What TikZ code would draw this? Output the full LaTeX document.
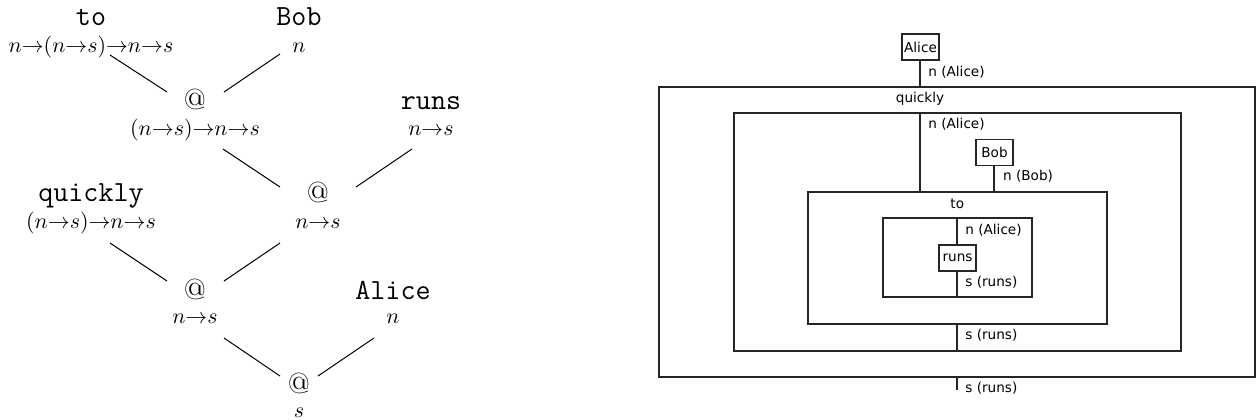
\documentclass[tikz,border=0pt]{standalone}
\usepackage{fontspec}
\newfontfamily\dvsans{DejaVu Sans}
\usetikzlibrary{calc,fit}
\tikzset{
  nm/.style={anchor=base,font=\fontsize{14.6}{17}\selectfont\ttfamily,inner sep=0pt},
  ap/.style={anchor=base,font=\fontsize{14.5}{17}\selectfont\rmfamily,inner sep=0pt},
  ty/.style={anchor=base,font=\fontsize{11.3}{13}\selectfont,inner sep=0pt},
  tedge/.style={line width=0.5pt},
  wire/.style={line width=0.9pt,draw=black!85},
  frame/.style={draw=black!85,line width=0.9pt,inner sep=0pt},
  gate/.style={draw=black!85,line width=0.9pt,minimum width=18.5pt,minimum height=13pt,inner sep=1pt,font=\dvsans\fontsize{6.8}{8}\selectfont},
  lbl/.style={anchor=west,inner sep=0pt,font=\dvsans\fontsize{6.8}{8}\selectfont},
  ttl/.style={inner sep=0pt,font=\dvsans\fontsize{6.8}{8}\selectfont},
}
\begin{document}
\begin{tikzpicture}[x=0.5pt,y=-0.5pt]
\useasboundingbox (0,0) rectangle (1257,419);
% ---------- left: derivation tree ----------
\node[nm] (to) at (91,25.5) {to};
\node[ty] (toT) at (91,52) {$n{\to}(n{\to}s){\to}n{\to}s$};
\node[nm] (bob) at (299,25.5) {Bob};
\node[ty] (bobT) at (299,52) {$n$};
\node[ap] (at1) at (195,109) {@};
\node[ty] (at1T) at (195,135.5) {$(n{\to}s){\to}n{\to}s$};
\node[nm] (runs) at (431,109) {runs};
\node[ty] (runsT) at (431,135.5) {$n{\to}s$};
\node[nm] (quickly) at (91,201.5) {quickly};
\node[ty] (quicklyT) at (91,228) {$(n{\to}s){\to}n{\to}s$};
\node[ap] (at2) at (318,202) {@};
\node[ty] (at2T) at (318,228) {$n{\to}s$};
\node[ap] (at3) at (195,299) {@};
\node[ty] (at3T) at (195,323.5) {$n{\to}s$};
\node[nm] (alice) at (393,299.5) {Alice};
\node[ty] (aliceT) at (393,323.5) {$n$};
\node[ap] (at4) at (299,393) {@};
\node[ty] (at4T) at (299,417) {$s$};
\draw[tedge] ($(toT.base)+(19,3)$) -- ($(at1.base)+(-28,-17)$);
\draw[tedge] ($(bobT.base)+(-19,2)$) -- ($(at1.base)+(29,-17)$);
\draw[tedge] ($(at1T.base)+(28,13.5)$) -- ($(at2.base)+(-38,-15)$);
\draw[tedge] ($(runsT.base)+(-19,13.5)$) -- ($(at2.base)+(38,-15)$);
\draw[tedge] ($(quicklyT.base)+(19,15)$) -- ($(at3.base)+(-28,-18)$);
\draw[tedge] ($(at2T.base)+(-38,15)$) -- ($(at3.base)+(29,-18)$);
\draw[tedge] ($(at3T.base)+(29,14.5)$) -- ($(at4.base)+(-19,-17)$);
\draw[tedge] ($(aliceT.base)+(-19,14.5)$) -- ($(at4.base)+(19,-17)$);
% ---------- right: string diagram ----------
\node[frame,fit={(659,87) (1255,377)}] (outer) {};
\node[frame,fit={(734,113) (1181,351)}] (box2) {};
\node[frame,fit={(808,192) (1107,324)}] (box3) {};
\node[frame,fit={(883,218) (1032,297)}] (box4) {};
\node[gate] (galice) at (920.5,47) {Alice};
\node[gate] (gbob) at (994.5,152.5) {Bob};
\node[gate] (gruns) at (957.5,258) {runs};
\coordinate (xa) at (920,0);
\coordinate (xb) at (994,0);
\coordinate (xr) at (957,0);
\coordinate (outend) at (957,390);
\draw[wire] (xa |- galice.south) -- (xa |- outer.north);
\draw[wire] (xa |- box2.north) -- (xa |- box3.north);
\draw[wire] (xb |- gbob.south) -- (xb |- box3.north);
\draw[wire] (xr |- box4.north) -- (xr |- gruns.north);
\draw[wire] (xr |- gruns.south) -- (xr |- box4.south);
\draw[wire] (xr |- box3.south) -- (xr |- box2.south);
\draw[wire] (xr |- outer.south) -- (outend);
\node[ttl] (tq) at (920,99) {quickly};
\node[ttl] (tto) at (957.3,204.3) {to};
\node[lbl] (l1) at (928,72) {n (Alice)};
\node[lbl] (l2) at (928,124.5) {n (Alice)};
\node[lbl] (l3) at (1002.7,176.7) {n (Bob)};
\node[lbl] (l4) at (965,230) {n (Alice)};
\node[lbl] (l5) at (965,282.7) {s (runs)};
\node[lbl] (l6) at (965,335.7) {s (runs)};
\node[lbl] (l7) at (965,388.7) {s (runs)};
\end{tikzpicture}
\end{document}
